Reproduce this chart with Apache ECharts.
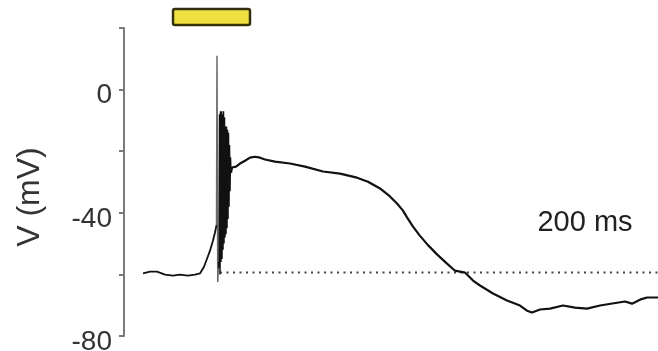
<!DOCTYPE html>
<html lang="en">
<head>
    <meta charset="UTF-8">
    <script src="https://cdn.jsdelivr.net/npm/echarts@6.0.0/dist/echarts.min.js"></script>
</head>
<body style="margin:0;">
<div id="traceChart" style="width: 658px;height:351px;"></div>
<script type="text/javascript">

    // time in ms, voltage in mV
    var restingMv = -59.4;
    var stimulusMs = [98, 252];
    var yTicks = [20, 0, -20, -40, -60, -80];

    var riseTrace = [
        [38, -59.7], [52, -59.1], [66, -59.1], [82, -60.1], [98, -60.4], [112, -60.1],
        [128, -60.4], [142, -60.1], [152, -59.7], [160, -57.5], [166, -54.9],
        [172, -52.3], [178, -49.0], [182, -46.4], [185, -44.0]
    ];
    var spikeTrace = [[185, -44.0], [186, 11.0], [187.5, -62.5], [189, -56]];
    var burstTrace = [
        [189, -56], [190, -58], [191, -8], [192, -60], [193, -7], [194, -56], [195, -7],
        [196, -55], [197, -8], [198, -52], [199, -7], [200, -50], [201, -9], [202, -48],
        [203, -12], [204, -47], [205, -12], [206, -45], [207, -13], [208, -42],
        [209, -14], [210, -38], [211, -18], [212, -33], [213, -22], [214, -27]
    ];
    var plateauTrace = [
        [214, -27], [216, -25.3], [224, -25.0], [232, -24.0], [242, -23.1], [252, -22.1],
        [262, -21.8], [272, -22.1], [282, -22.7], [302, -23.4], [332, -24.0],
        [362, -25.0], [398, -26.6], [432, -27.3], [466, -28.6], [488, -29.9],
        [512, -32.1], [532, -34.7], [546, -37.0], [558, -39.3], [566, -41.5],
        [578, -44.5], [592, -47.5], [608, -50.5], [626, -53.5], [646, -56.5],
        [662, -58.8], [682, -59.4], [698, -62.0], [712, -63.6], [738, -66.2],
        [766, -68.5], [792, -70.1], [806, -71.8], [816, -72.4], [832, -71.4],
        [852, -71.1], [878, -70.1], [902, -70.8], [926, -71.1], [952, -70.1],
        [986, -69.2], [1002, -68.8], [1016, -69.5], [1032, -68.2], [1046, -67.5],
        [1068, -67.5]
    ];

    var chart = echarts.init(document.getElementById("traceChart"));
    var font = "Liberation Sans, Arial, Helvetica, sans-serif";

    var option = {
        animation: false,
        grid: { left: 124, right: 0, top: 28, bottom: 15, outerBoundsMode: "none", containLabel: false },
        xAxis: { type: "value", min: 0, max: 1068, show: false },
        yAxis: {
            type: "value",
            min: yTicks[yTicks.length - 1],
            max: yTicks[0],
            interval: 20,
            name: "V (mV)",
            nameLocation: "middle",
            nameRotate: 90,
            nameGap: 78,
            nameTextStyle: { fontSize: 32, color: "#333", fontFamily: font, padding: [0, 30, 0, 0] },
            axisLine: { show: true, lineStyle: { color: "#7a7a7a", width: 2 } },
            axisTick: { show: true, length: 5, lineStyle: { color: "#7a7a7a", width: 2 } },
            axisLabel: {
                fontSize: 28, color: "#333", fontFamily: font, margin: 12,
                verticalAlign: "top", lineHeight: 12,
                formatter: function (v) { return v % 40 === 0 ? String(v) : ""; }
            },
            splitLine: { show: false }
        },
        graphic: [{
            type: "text", x: 585, y: 223,
            style: { text: "200 ms", fontSize: 29, fontFamily: font, fill: "#222",
                     textAlign: "center", textVerticalAlign: "middle" }
        }],
        series: [
            {
                type: "line", name: "rest", symbol: "none", z: 1,
                data: [[192, restingMv], [1068, restingMv]],
                lineStyle: { color: "#444", width: 2, type: [2, 4.5] }
            },
            {
                type: "line", name: "rise", symbol: "none", z: 3,
                data: riseTrace,
                lineStyle: { color: "#111", width: 1.8 }
            },
            {
                type: "line", name: "spike", symbol: "none", z: 2,
                data: spikeTrace,
                lineStyle: { color: "#6a6a6a", width: 1.5 }
            },
            {
                type: "line", name: "burst", symbol: "none", z: 3,
                data: burstTrace,
                lineStyle: { color: "#111", width: 1.5 }
            },
            {
                type: "line", name: "plateau", symbol: "none", z: 3,
                data: plateauTrace,
                lineStyle: { color: "#111", width: 2.2 }
            },
            {
                type: "custom", name: "stimulus", clip: false, z: 4,
                data: [stimulusMs],
                renderItem: function (params, api) {
                    var a = api.coord([api.value(0), yTicks[0]]);
                    var b = api.coord([api.value(1), yTicks[0]]);
                    return {
                        type: "rect",
                        shape: { x: a[0], y: a[1] - 19, width: b[0] - a[0], height: 16, r: 2 },
                        style: { fill: "#efe040", stroke: "#35300c", lineWidth: 2.5 }
                    };
                }
            }
        ]
    };
    chart.setOption(option);
</script>
</body>
</html>
